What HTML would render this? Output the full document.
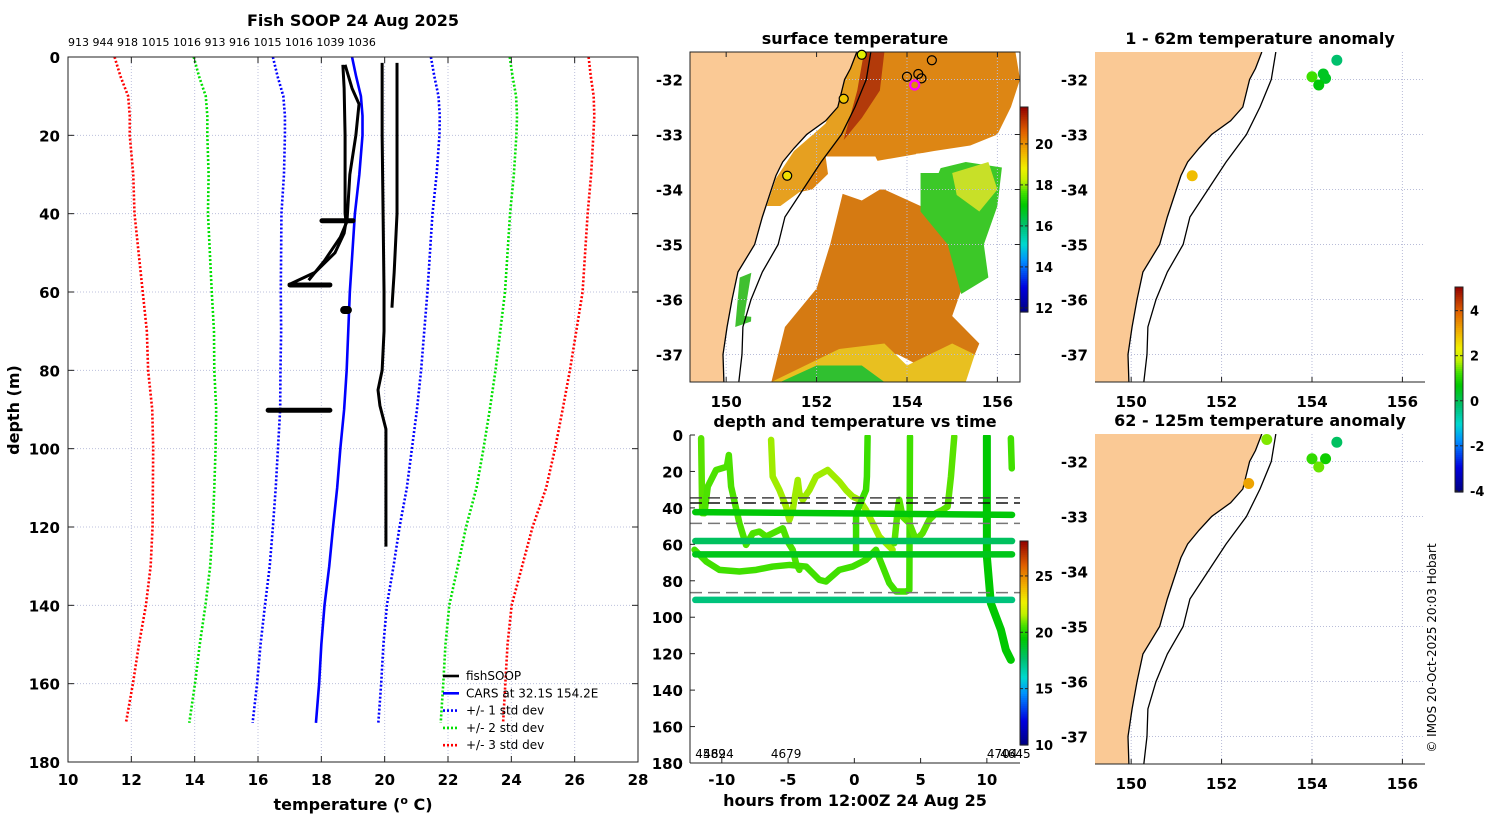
<!DOCTYPE html>
<html><head><meta charset="utf-8"><style>
html,body{margin:0;padding:0;background:#fff}
svg{display:block;font-family:"DejaVu Sans","Liberation Sans",sans-serif}
</style></head><body>
<svg id="fig" width="1500" height="820" viewBox="0 0 1500 820" xmlns="http://www.w3.org/2000/svg"></svg>
<script>
// ---------- DATA ----------
const carsDepth=[0,5,10,15,20,30,40,50,60,70,80,90,100,110,120,130,140,150,160,170];
const carsMean=[18.97,19.1,19.25,19.3,19.3,19.2,19.06,18.98,18.9,18.85,18.8,18.72,18.6,18.5,18.37,18.25,18.1,18.0,17.93,17.83];
const carsSdLo=[2.5,2.48,2.45,2.45,2.45,2.38,2.32,2.25,2.18,2.12,2.09,2.02,1.97,1.94,1.9,1.88,1.88,1.92,1.96,2.0];
const carsSdHi=[2.49,2.47,2.45,2.44,2.43,2.44,2.45,2.45,2.45,2.4,2.35,2.3,2.26,2.2,2.1,2.03,1.97,1.96,1.96,1.97];
const fishDepthC=[2,8,20,30,40,42,45,50,55,58];
const fishTempC=[18.68,18.72,18.75,18.75,18.75,18.78,18.72,18.43,17.8,17.01];
const fishDepthC2=[2,8,12,20,30,42,46,52,57];
const fishTempC2=[18.75,18.97,19.19,19.09,18.9,18.81,18.6,18.1,17.6];
const fishDepthA=[1.5,20,40,60,70,80,85,89,95,110,125];
const fishTempA=[19.92,19.92,19.95,19.98,19.98,19.92,19.79,19.85,20.04,20.04,20.04];
const fishDepthB=[1.5,20,40,45,55,60,64];
const fishTempB=[20.39,20.39,20.39,20.36,20.3,20.26,20.23];
const blobDepth=[41.8,58.2,90.2,64.6];
const blobTmin=[18.02,17.01,16.32,18.72];
const blobTmax=[19.0,18.27,18.27,18.84];
const topIds=['913','944','918','1015','1016','913','916','1015','1016','1039','1036'];
const xTicksT=[10,12,14,16,18,20,22,24,26,28];
const yTicksD=[0,20,40,60,80,100,120,140,160,180];

const coastLon=[152.89,152.75,152.62,152.47,152.2,151.78,151.5,151.25,151.1,151.0,150.8,150.63,150.26,150.13,150.02,149.93,149.95];
const coastLat=[-31.5,-31.8,-32,-32.5,-32.75,-33,-33.25,-33.5,-33.75,-34,-34.5,-35,-35.5,-36,-36.5,-37,-37.5];
const shelfLon=[153.2,153.1,152.85,152.55,152.1,151.7,151.3,151.15,150.8,150.55,150.37,150.35,150.28];
const shelfLat=[-31.5,-32,-32.5,-33,-33.5,-34,-34.5,-35,-35.5,-36,-36.5,-37,-37.5];

const sstDotLon=[153.0,152.6,151.35];
const sstDotLat=[-31.55,-32.35,-33.75];
const sstDotVal=[18.6,19.3,19.0];
const sstOpenLon=[154.55,154.0,154.25,154.32];
const sstOpenLat=[-31.65,-31.95,-31.9,-31.98];

const anom1Lon=[154.55,154.0,154.25,154.3,154.15,151.35];
const anom1Lat=[-31.65,-31.95,-31.9,-31.98,-32.1,-33.75];
const anom1Val=[-0.2,1.2,0.4,0.4,0.6,2.9];
const anom2Lon=[153.0,154.55,154.0,154.3,154.15,152.6];
const anom2Lat=[-31.6,-31.65,-31.95,-31.95,-32.1,-32.4];
const anom2Val=[1.5,-0.1,1.1,0.8,1.4,3.2];

const tsHours=[ // traces
 [-11.56,-11.48,-11.31],
 [-11.31,-11.06,-10.43,-9.62,-9.47,-9.3,-8.67,-8.17,-7.66,-7.16,-6.66,-5.9,-5.4,-5.03,-4.65,-4.4,-4.15],
 [-12.06,-11.18,-10.18,-8.67,-7.41,-6.16,-4.9,-3.64,-2.64,-2.14,-1.13,-0.13,0.88,1.63,2.14,2.64,3.14,3.89,4.15,4.2],
 [-6.28,-6.16,-5.65,-5.15,-4.9,-4.65,-4.27,-4.15,-3.89,-3.39,-2.89,-2.01,-1.13,-0.63,-0.13,0.38,0.88,1.38,1.88,2.39,2.89],
 [1.0,0.95,0.88,0.13,0.13],
 [3.02,3.27,3.39,3.64,3.89,4.15,4.65,5.15,5.65,6.16,6.66,7.04,7.29,7.54],
 [10.0,10.0,10.0,10.3,10.68,11.06,11.43,11.81],
 [11.81,11.88]
];
const tsDepth=[
 [1.8,42.9,42.9],
 [42.9,28.3,19.2,17.4,11,28.3,48.4,60.3,53.9,53,55.7,53,51.2,58.5,63,70.4,74],
 [63,69.4,74,74.9,74,72.2,71.3,72.2,79.5,80.4,74,72.2,68.5,63,72.2,81.3,85.9,85.9,85,0.9],
 [2.7,22.8,30.2,39.3,46.6,41.1,24.7,32,35.6,30.2,22.8,19.2,25.6,30.2,33.8,35.6,41.1,48.4,55.7,59.4,63],
 [0.9,22.8,30.2,42.9,64.9],
 [59.4,41.1,35.6,44.8,46.6,48.4,57.6,53.9,46.6,42.9,41.1,39.3,22.8,0.9],
 [0.9,35,66.7,92.3,99.6,106.9,117.9,123.4],
 [1.8,18.3]
];
const tsTemp=[20.7,20.6,20.5,21.3,20.4,20.7,19.4,20.5];
const mooringDepth=[42.3,58.2,65.5,90.5];
const mooringTemp=[19.3,17.9,19.0,17.4];
const dashDepth=[34.5,37.3,48.5,86.5];
const dashColor=['#444','#111','#777','#777'];
const tsLabelHour=[-12.0,-11.4,-6.3,10.0,11.0];
const tsLabels=['4589','4624','4679','4704','4645'];

// ---------- helpers ----------
const NS='http://www.w3.org/2000/svg';
const svg=document.getElementById('fig');
function mk(tag,attrs,parent){const e=document.createElementNS(NS,tag);for(const k in attrs)e.setAttribute(k,attrs[k]);(parent||svg).appendChild(e);return e;}
function txt(s,x,y,size,weight,anchor,parent){const e=mk('text',{x:x,y:y,'font-size':size,'font-weight':weight||'normal','text-anchor':anchor||'middle',fill:'#000'},parent);e.textContent=s;return e;}
const stops=[[0,[0,0,128]],[0.12,[0,0,224]],[0.25,[0,144,255]],[0.33,[0,216,208]],[0.42,[0,192,112]],[0.52,[0,200,0]],[0.58,[64,224,0]],[0.64,[192,240,0]],[0.70,[240,240,0]],[0.78,[240,176,0]],[0.88,[224,96,0]],[1,[144,0,0]]];
function cmap(v,a,b){let s=(v-a)/(b-a);s=Math.max(0,Math.min(1,s));for(let i=1;i<stops.length;i++){if(s<=stops[i][0]){const f=(s-stops[i-1][0])/(stops[i][0]-stops[i-1][0]);const c=stops[i-1][1].map((q,j)=>Math.round(q+(stops[i][1][j]-q)*f));return 'rgb('+c.join(',')+')';}}return 'rgb(144,0,0)';}
function colorbar(x,y0,y1,a,b,ticks,name){const g=mk('g',{});const n=100;for(let i=0;i<n;i++){const v=b-(b-a)*(i+0.5)/n;mk('rect',{x:x,y:y0+(y1-y0)*i/n,width:8,height:(y1-y0)/n+0.6,fill:cmap(v,a,b)},g);}
 mk('rect',{x:x,y:y0,width:8,height:y1-y0,fill:'none',stroke:'#222','stroke-width':1},g);
 ticks.forEach(t=>{const yy=y1-(t-a)/(b-a)*(y1-y0);mk('line',{x1:x,x2:x+3,y1:yy,y2:yy,stroke:'#222'},g);mk('line',{x1:x+5,x2:x+8,y1:yy,y2:yy,stroke:'#222'},g);const l=txt(String(t),x+15,yy+5,13,'bold','start',g);});return g;}

// ---------- LEFT PROFILE CHART ----------
const LX0=68,LX1=638,LY0=57,LY1=762;
const tx=t=>LX0+(t-10)*(LX1-LX0)/18;
const dy=d=>LY0+d*(LY1-LY0)/180;
const left=mk('g',{});


const title=txt('Fish SOOP 24 Aug 2025',353,26,16,'bold','middle',left);


const idt=txt(topIds.join(' '),68,46,11,'normal','start',left);


xTicksT.slice(1,-1).forEach(t=>{mk('line',{x1:tx(t),x2:tx(t),y1:LY0,y2:LY1,stroke:'#bcc0dc','stroke-width':1,'stroke-dasharray':'1,2'},left);});
yTicksD.slice(1,-1).forEach(d=>{mk('line',{x1:LX0,x2:LX1,y1:dy(d),y2:dy(d),stroke:'#bcc0dc','stroke-width':1,'stroke-dasharray':'1,2'},left);});
function polyProfile(dep,tem,fn){return dep.map((d,i)=>tx(fn(i))+','+dy(d)).join(' ');}
const sdDefs=[[1,'#0000ff','std-1'],[2,'#00e000','std-2'],[3,'#ff0000','std-3']];
sdDefs.forEach(([k,c,n])=>{
 const lo=mk('polyline',{points:polyProfile(carsDepth,carsMean,i=>carsMean[i]-k*carsSdLo[i]),fill:'none',stroke:c,'stroke-width':2.6,'stroke-dasharray':'2,2'},left);
 
 
 const hi=mk('polyline',{points:polyProfile(carsDepth,carsMean,i=>carsMean[i]+k*carsSdHi[i]),fill:'none',stroke:c,'stroke-width':2.6,'stroke-dasharray':'2,2'},left);
 
 
});
const cars=mk('polyline',{points:polyProfile(carsDepth,carsMean,i=>carsMean[i]),fill:'none',stroke:'#0000ff','stroke-width':2.6},left);


[[fishDepthC,fishTempC],[fishDepthC2,fishTempC2],[fishDepthA,fishTempA],[fishDepthB,fishTempB]].forEach(([d,t])=>{
 const p=mk('polyline',{points:polyProfile(d,t,i=>t[i]),fill:'none',stroke:'#000','stroke-width':3,'stroke-linejoin':'round'},left);
 
 
});
blobDepth.forEach((d,i)=>{
 const b=mk('line',{x1:tx(blobTmin[i]),x2:tx(blobTmax[i]),y1:dy(d),y2:dy(d),stroke:'#000','stroke-width':i==3?8:5,'stroke-linecap':'round'},left);
 
 
});
const lbox=mk('rect',{x:LX0,y:LY0,width:LX1-LX0,height:LY1-LY0,fill:'none',stroke:'#222','stroke-width':1},left);


xTicksT.forEach(t=>{mk('line',{x1:tx(t),x2:tx(t),y1:LY1,y2:LY1-6,stroke:'#222'},left);mk('line',{x1:tx(t),x2:tx(t),y1:LY0,y2:LY0+6,stroke:'#222'},left);
 const l=txt(String(t),tx(t),785,15,'bold','middle',left);});
yTicksD.forEach(d=>{mk('line',{x1:LX0,x2:LX0+6,y1:dy(d),y2:dy(d),stroke:'#222'},left);mk('line',{x1:LX1,x2:LX1-6,y1:dy(d),y2:dy(d),stroke:'#222'},left);
 const l=txt(String(d),60,dy(d)+6,15,'bold','end',left);});
const xt=mk('text',{x:353,y:810,'font-size':16,'font-weight':'bold','text-anchor':'middle'},left);
xt.innerHTML='temperature (<tspan dy="-6" font-size="11">o</tspan><tspan dy="6"> C)</tspan>';


const yt=txt('depth (m)',0,0,16,'bold','middle',left);
yt.setAttribute('transform','translate(19,410) rotate(-90)');


const legItems=[['fishSOOP','#000',''],['CARS at 32.1S 154.2E','#0000ff',''],['+/- 1 std dev','#0000ff','2,2'],['+/- 2 std dev','#00e000','2,2'],['+/- 3 std dev','#ff0000','2,2']];
const leg=mk('g',{},left);


legItems.forEach(([s,c,da],i)=>{const y=676+i*17.3;const g=mk('g',{},leg);
 mk('line',{x1:443,x2:459,y1:y,y2:y,stroke:c,'stroke-width':2.6,'stroke-dasharray':da||'none'},g);txt(s,466,y+4,12,'normal','start',g);});

// ---------- MAPS ----------
const LON0=149.2,LON1=156.5,LAT0=-31.5,LAT1=-37.5;
function mapPanel(x0,y0,name,ttl,boxFull){
 const W=330,H=330;
 const px=lon=>x0+(lon-LON0)/(LON1-LON0)*W;
 const py=lat=>y0+(lat-LAT0)/(LAT1-LAT0)*H;
 const g=mk('g',{});
 const cid='clip'+name;const cp=mk('clipPath',{id:cid},g);mk('rect',{x:x0,y:y0,width:W,height:H},cp);
 const inner=mk('g',{'clip-path':'url(#'+cid+')'},g);
 const t=txt(ttl,x0+W/2+(boxFull?0:0),y0-8,16,'bold','middle',g);
 return {g,inner,px,py,x0,y0,W,H};
}
function pts(P,lons,lats){return lons.map((l,i)=>P.px(l)+','+P.py(lats[i])).join(' ');}
function drawGridLand(P,full){
 [150,152,154,156].forEach(l=>mk('line',{x1:P.px(l),x2:P.px(l),y1:P.y0,y2:P.y0+P.H,stroke:'#b8bcd8','stroke-dasharray':'1,2'},P.inner));
 [-32,-33,-34,-35,-36,-37].forEach(l=>mk('line',{x1:P.x0,x2:P.x0+P.W,y1:P.py(l),y2:P.py(l),stroke:'#b8bcd8','stroke-dasharray':'1,2'},P.inner));
 const land=mk('polygon',{points:P.x0+','+P.y0+' '+pts(P,coastLon,coastLat)+' '+P.x0+','+(P.y0+P.H),fill:'#fac995',stroke:'none'},P.inner);
 
 const cl=mk('polyline',{points:pts(P,coastLon,coastLat),fill:'none',stroke:'#000','stroke-width':1.3},P.inner);
 
 const sh=mk('polyline',{points:pts(P,shelfLon,shelfLat),fill:'none',stroke:'#000','stroke-width':1.3},P.inner);
 
 if(full){mk('rect',{x:P.x0,y:P.y0,width:P.W,height:P.H,fill:'none',stroke:'#222'},P.g);}
 else{mk('line',{x1:P.x0,x2:P.x0+P.W,y1:P.y0+P.H,y2:P.y0+P.H,stroke:'#222'},P.g);}
 [150,152,154,156].forEach(l=>{mk('line',{x1:P.px(l),x2:P.px(l),y1:P.y0+P.H,y2:P.y0+P.H-5,stroke:'#222'},P.g);if(full)mk('line',{x1:P.px(l),x2:P.px(l),y1:P.y0,y2:P.y0+5,stroke:'#222'},P.g);
  const a=txt(String(l),P.px(l),P.y0+P.H+25,15,'bold','middle',P.g);});
 [-32,-33,-34,-35,-36,-37].forEach(l=>{if(full){mk('line',{x1:P.x0+P.W,x2:P.x0+P.W-5,y1:P.py(l),y2:P.py(l),stroke:'#222'},P.g);}
  const a=txt(String(l),P.x0-7,P.py(l)+6,15,'bold','end',P.g);});
}
// SST map
const S=mapPanel(690,52,'sst-map','surface temperature',true);
mk('rect',{x:690,y:52,width:330,height:330,fill:'#fff'},S.inner);
const sstRegions=[
 {c:'#dd8614',lon:[152.9,156.4,156.5,156.3,156.0,155.4,154.6,153.2,152.4,151.9,151.3,151.7,152.5,152.9],lat:[-31.5,-31.5,-32,-32.5,-33.0,-33.2,-33.3,-33.5,-33.6,-34.0,-34.1,-33.3,-32.5,-31.9]},
 {c:'#e6a020',lon:[152.9,153.2,153.1,152.85,152.55,152.1,151.7,151.2,150.9,151.1,151.5,152.2,152.6],lat:[-31.5,-31.5,-32,-32.5,-33,-33.5,-34,-34.3,-34.3,-33.8,-33.3,-32.8,-32.0]},
 {c:'#b23a0a',lon:[153.05,153.5,153.4,153.0,152.6,152.9],lat:[-31.5,-31.5,-32.2,-32.7,-33.1,-32.2]},
 {c:'#d57a12',lon:[152.6,153.5,154.3,154.9,155.3,155.0,155.6,155.4,154.5,153.8,153,152.2,151.5,151.0,151.3,152.0,152.3],lat:[-34.0,-34.0,-34.3,-35.0,-35.6,-36.3,-36.8,-37.2,-37.3,-37.0,-36.9,-37.3,-37.5,-37.5,-36.5,-35.8,-35.0]},
 {c:'#3cc828',lon:[154.3,155.3,156.1,156.0,155.7,155.8,155.2,154.9,154.3],lat:[-33.7,-33.5,-33.6,-34.3,-35.0,-35.6,-35.9,-35.0,-34.4]},
 {c:'#c8e028',lon:[155.0,155.8,156.0,155.6,155.1],lat:[-33.7,-33.5,-34.0,-34.4,-34.1]},
 {c:'#e8c020',lon:[151.0,152.5,153.5,154.0,155.0,155.5,155.3,151.0],lat:[-37.5,-36.9,-36.8,-37.2,-36.8,-37.0,-37.5,-37.5]},
 {c:'#30c030',lon:[151.2,152.0,153.0,153.5,153.0,152.0,151.2],lat:[-37.5,-37.2,-37.2,-37.5,-37.5,-37.5,-37.5]},
 {c:'#40c030',lon:[150.3,150.6,150.55,150.2],lat:[-35.6,-35.5,-36.4,-36.5]},
 {c:'#ffffff',lon:[152.2,153.3,153.6,153.0,152.3],lat:[-33.4,-33.4,-33.9,-34.2,-34.0]},
 {c:'#ffffff',lon:[154.2,154.9,154.7,154.2],lat:[-33.35,-33.3,-33.7,-33.7]},
 {c:'#ffffff',lon:[150.6,151.7,151.4,150.4],lat:[-35.3,-35.5,-36.4,-36.3]}
];
sstRegions.forEach(r=>{const p=mk('polygon',{points:pts(S,r.lon,r.lat),fill:r.c},S.inner);});
drawGridLand(S,true);
sstDotLon.forEach((l,i)=>{const c=mk('circle',{cx:S.px(l),cy:S.py(sstDotLat[i]),r:4.5,fill:cmap(sstDotVal[i],11.8,21.8),stroke:'#000','stroke-width':1.2},S.g);});
sstOpenLon.forEach((l,i)=>{const c=mk('circle',{cx:S.px(l),cy:S.py(sstOpenLat[i]),r:4.5,fill:'none',stroke:'#000','stroke-width':1.2},S.g);});
const mg=mk('circle',{cx:S.px(154.17),cy:S.py(-32.1),r:4.5,fill:'none',stroke:'#ff00ff','stroke-width':2.2},S.g);


colorbar(1020,107,312,11.8,21.8,[12,14,16,18,20],'sst-colorbar');

// Anomaly maps
function anomMap(y0,name,ttl,lons,lats,vals){
 const P=mapPanel(1095,y0,name,ttl,false);
 drawGridLand(P,false);
 lons.forEach((l,i)=>{const c=mk('circle',{cx:P.px(l),cy:P.py(lats[i]),r:5.5,fill:cmap(vals[i],-4.05,5.05)},P.g);});
}
anomMap(52,'anomaly-map-shallow','1 - 62m temperature anomaly',anom1Lon,anom1Lat,anom1Val);
anomMap(434,'anomaly-map-deep','62 - 125m temperature anomaly',anom2Lon,anom2Lat,anom2Val);
colorbar(1455,287,492,-4.05,5.05,[-4,-2,0,2,4],'anomaly-colorbar');

// ---------- TIME SERIES ----------
const TX0=690,TX1=1020,TY0=435,TY1=763,H0=-12.4,H1=12.5;
const hx=h=>TX0+(h-H0)/(H1-H0)*(TX1-TX0);
const ty=d=>TY0+d/180*(TY1-TY0);
const ts=mk('g',{});


const tt=txt('depth and temperature vs time',855,427,16,'bold','middle',ts);


const cpt=mk('clipPath',{id:'tsclip'},ts);mk('rect',{x:TX0,y:TY0,width:TX1-TX0,height:TY1-TY0},cpt);
const tsin=mk('g',{'clip-path':'url(#tsclip)'},ts);
tsHours.forEach((hh,k)=>{const p=mk('polyline',{points:hh.map((h,i)=>hx(h)+','+ty(tsDepth[k][i])).join(' '),fill:'none',stroke:cmap(tsTemp[k],10,28.1),'stroke-width':k==6?8:6.5,'stroke-linecap':'round','stroke-linejoin':'round'},tsin);
 });
mooringDepth.forEach((d,i)=>{const p=mk('line',{x1:hx(-12.0),x2:hx(11.9),y1:ty(d),y2:ty(d+(i==0?1.5:0)),stroke:cmap(mooringTemp[i],10,28.1),'stroke-width':6.5,'stroke-linecap':'round'},tsin);
 });
dashDepth.forEach((d,i)=>{const p=mk('line',{x1:TX0,x2:TX1,y1:ty(d),y2:ty(d),stroke:dashColor[i],'stroke-width':1.5,'stroke-dasharray':'12,6'},tsin);
 });
mk('line',{x1:TX0,x2:TX0,y1:TY0,y2:TY1,stroke:'#222'},ts);
mk('line',{x1:TX0,x2:TX1,y1:TY1,y2:TY1,stroke:'#222'},ts);
[-10,-5,0,5,10].forEach(h=>{mk('line',{x1:hx(h),x2:hx(h),y1:TY1,y2:TY1-5,stroke:'#222'},ts);
 const l=txt(String(h),hx(h),785,15,'bold','middle',ts);});
[0,20,40,60,80,100,120,140,160,180].forEach(d=>{mk('line',{x1:TX0,x2:TX0+5,y1:ty(d),y2:ty(d),stroke:'#222'},ts);
 const l=txt(String(d),683,ty(d)+6,15,'bold','end',ts);});
tsLabelHour.forEach((h,i)=>{const l=txt(tsLabels[i],hx(h),758,12,'normal','start',ts);});
const hxl=txt('hours from 12:00Z 24 Aug 25',855,806,16,'bold','middle',ts);


colorbar(1020,541,745,10,28.1,[10,15,20,25],'time-series-colorbar');

const cr=txt('© IMOS 20-Oct-2025 20:03 Hobart',0,0,12,'normal','middle');
cr.setAttribute('transform','translate(1436,648) rotate(-90)');


</script>
</body></html>
